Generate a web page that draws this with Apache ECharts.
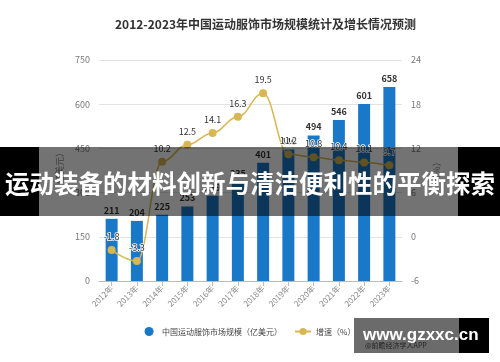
<!DOCTYPE html>
<html><head><meta charset="utf-8">
<script src="https://cdn.jsdelivr.net/npm/echarts@6/dist/echarts.min.js"></script>
<style>html,body{margin:0;padding:0;background:#fff}#c{width:500px;height:362px}</style>
</head><body><div id="c"></div>
<script>
const titleText = '2012-2023年中国运动服饰市场规模统计及增长情况预测';
const categories = ['2012年','2013年','2014年','2015年','2016年','2017年','2018年','2019年','2020年','2021年','2022年','2023年'];
const marketSize = [211,204,225,253,289,335,401,446,494,546,601,658];
const growth = [-1.8,-3.3,10.2,12.5,14.1,16.3,19.5,11.2,10.8,10.4,10.1,9.7];
const seriesNames = ['中国运动服饰市场规模（亿美元）','增速（%）'];
const leftAxis = {min:0, max:750, interval:150, name:'（亿美元）'};
const rightAxis = {min:-6, max:24, interval:6, name:'（%）'};
const overlayText = '运动装备的材料创新与清洁便利性的平衡探索';
const siteText = 'www.gzxxc.cn';
const sourceText = '@前瞻经济学人APP';

const FF = '"Noto Sans CJK SC", "Noto Sans", sans-serif';
const chart = echarts.init(document.getElementById('c'));
chart.setOption({
  backgroundColor:'#fff',
  textStyle:{fontFamily:FF},
  title:{text:titleText,left:110,top:13,textStyle:{fontSize:12,fontWeight:'bold',color:'#333',fontFamily:FF}},
  grid:{left:99,right:98,top:60,bottom:81},
  legend:{top:322,left:'center',itemGap:12,itemWidth:16,itemHeight:9,
    textStyle:{fontSize:8,color:'#444'},
    data:[{name:seriesNames[0],icon:'circle'},{name:seriesNames[1]}]},
  xAxis:{type:'category',data:categories,
    axisLine:{lineStyle:{color:'#bbb'}},
    axisTick:{show:true,alignWithLabel:true,lineStyle:{color:'#bbb'}},
    axisLabel:{rotate:45,fontSize:8,color:'#888',margin:6}},
  yAxis:[
    {type:'value',min:leftAxis.min,max:leftAxis.max,interval:leftAxis.interval,
     name:leftAxis.name,nameLocation:'middle',nameGap:32,nameTextStyle:{fontSize:9,color:'#888'},
     axisLabel:{fontSize:9,color:'#777',margin:9},axisLine:{show:false},axisTick:{show:false},
     splitLine:{lineStyle:{color:'#e3e3e3'}}},
    {type:'value',min:rightAxis.min,max:rightAxis.max,interval:rightAxis.interval,
     name:rightAxis.name,nameLocation:'middle',nameGap:28,nameTextStyle:{fontSize:9,color:'#888'},
     axisLabel:{fontSize:9,color:'#777',margin:9},axisLine:{show:false},axisTick:{show:false},
     splitLine:{show:false}}
  ],
  series:[
    {name:seriesNames[0],type:'bar',data:marketSize,barWidth:12,yAxisIndex:0,
     itemStyle:{color:'#1a78c8'},
     label:{show:true,position:'top',fontSize:9,fontWeight:'bold',color:'#333',distance:4}},
    {name:seriesNames[1],type:'line',data:growth,yAxisIndex:1,smooth:0.4,smoothMonotone:'x',
     symbol:'circle',symbolSize:8,
     lineStyle:{color:'#d8b650',width:1.5},itemStyle:{color:'#d8b650'},
     label:{show:true,position:'top',fontSize:9,color:'#333',textBorderColor:'#fff',textBorderWidth:1.5,distance:5}}
  ],
  graphic:[
    {type:'rect',z:100,shape:{x:0,y:147,width:39,height:69},style:{fill:'#000'}},
    {type:'rect',z:100,shape:{x:39,y:147,width:419,height:69},style:{fill:'rgba(0,0,0,0.55)'}},
    {type:'rect',z:100,shape:{x:458,y:147,width:42,height:69},style:{fill:'#000'}},
    {type:'text',z:101,left:'center',top:171,style:{text:overlayText,fill:'#fff',font:'bold 24.5px '+FF}},
    {type:'rect',z:100,shape:{x:354,y:318,width:105,height:35},style:{fill:'rgba(0,0,0,0.58)'}},
    {type:'rect',z:100,shape:{x:459,y:318,width:30,height:35},style:{fill:'#000'}},
    {type:'text',z:101,left:363,top:327,style:{text:siteText,fill:'#fff',font:'bold 17px "Liberation Sans", Arial, sans-serif'}},
    {type:'text',z:101,left:365,top:342,style:{text:sourceText,fill:'#222',font:'7px '+FF}}
  ]
});
</script></body></html>
